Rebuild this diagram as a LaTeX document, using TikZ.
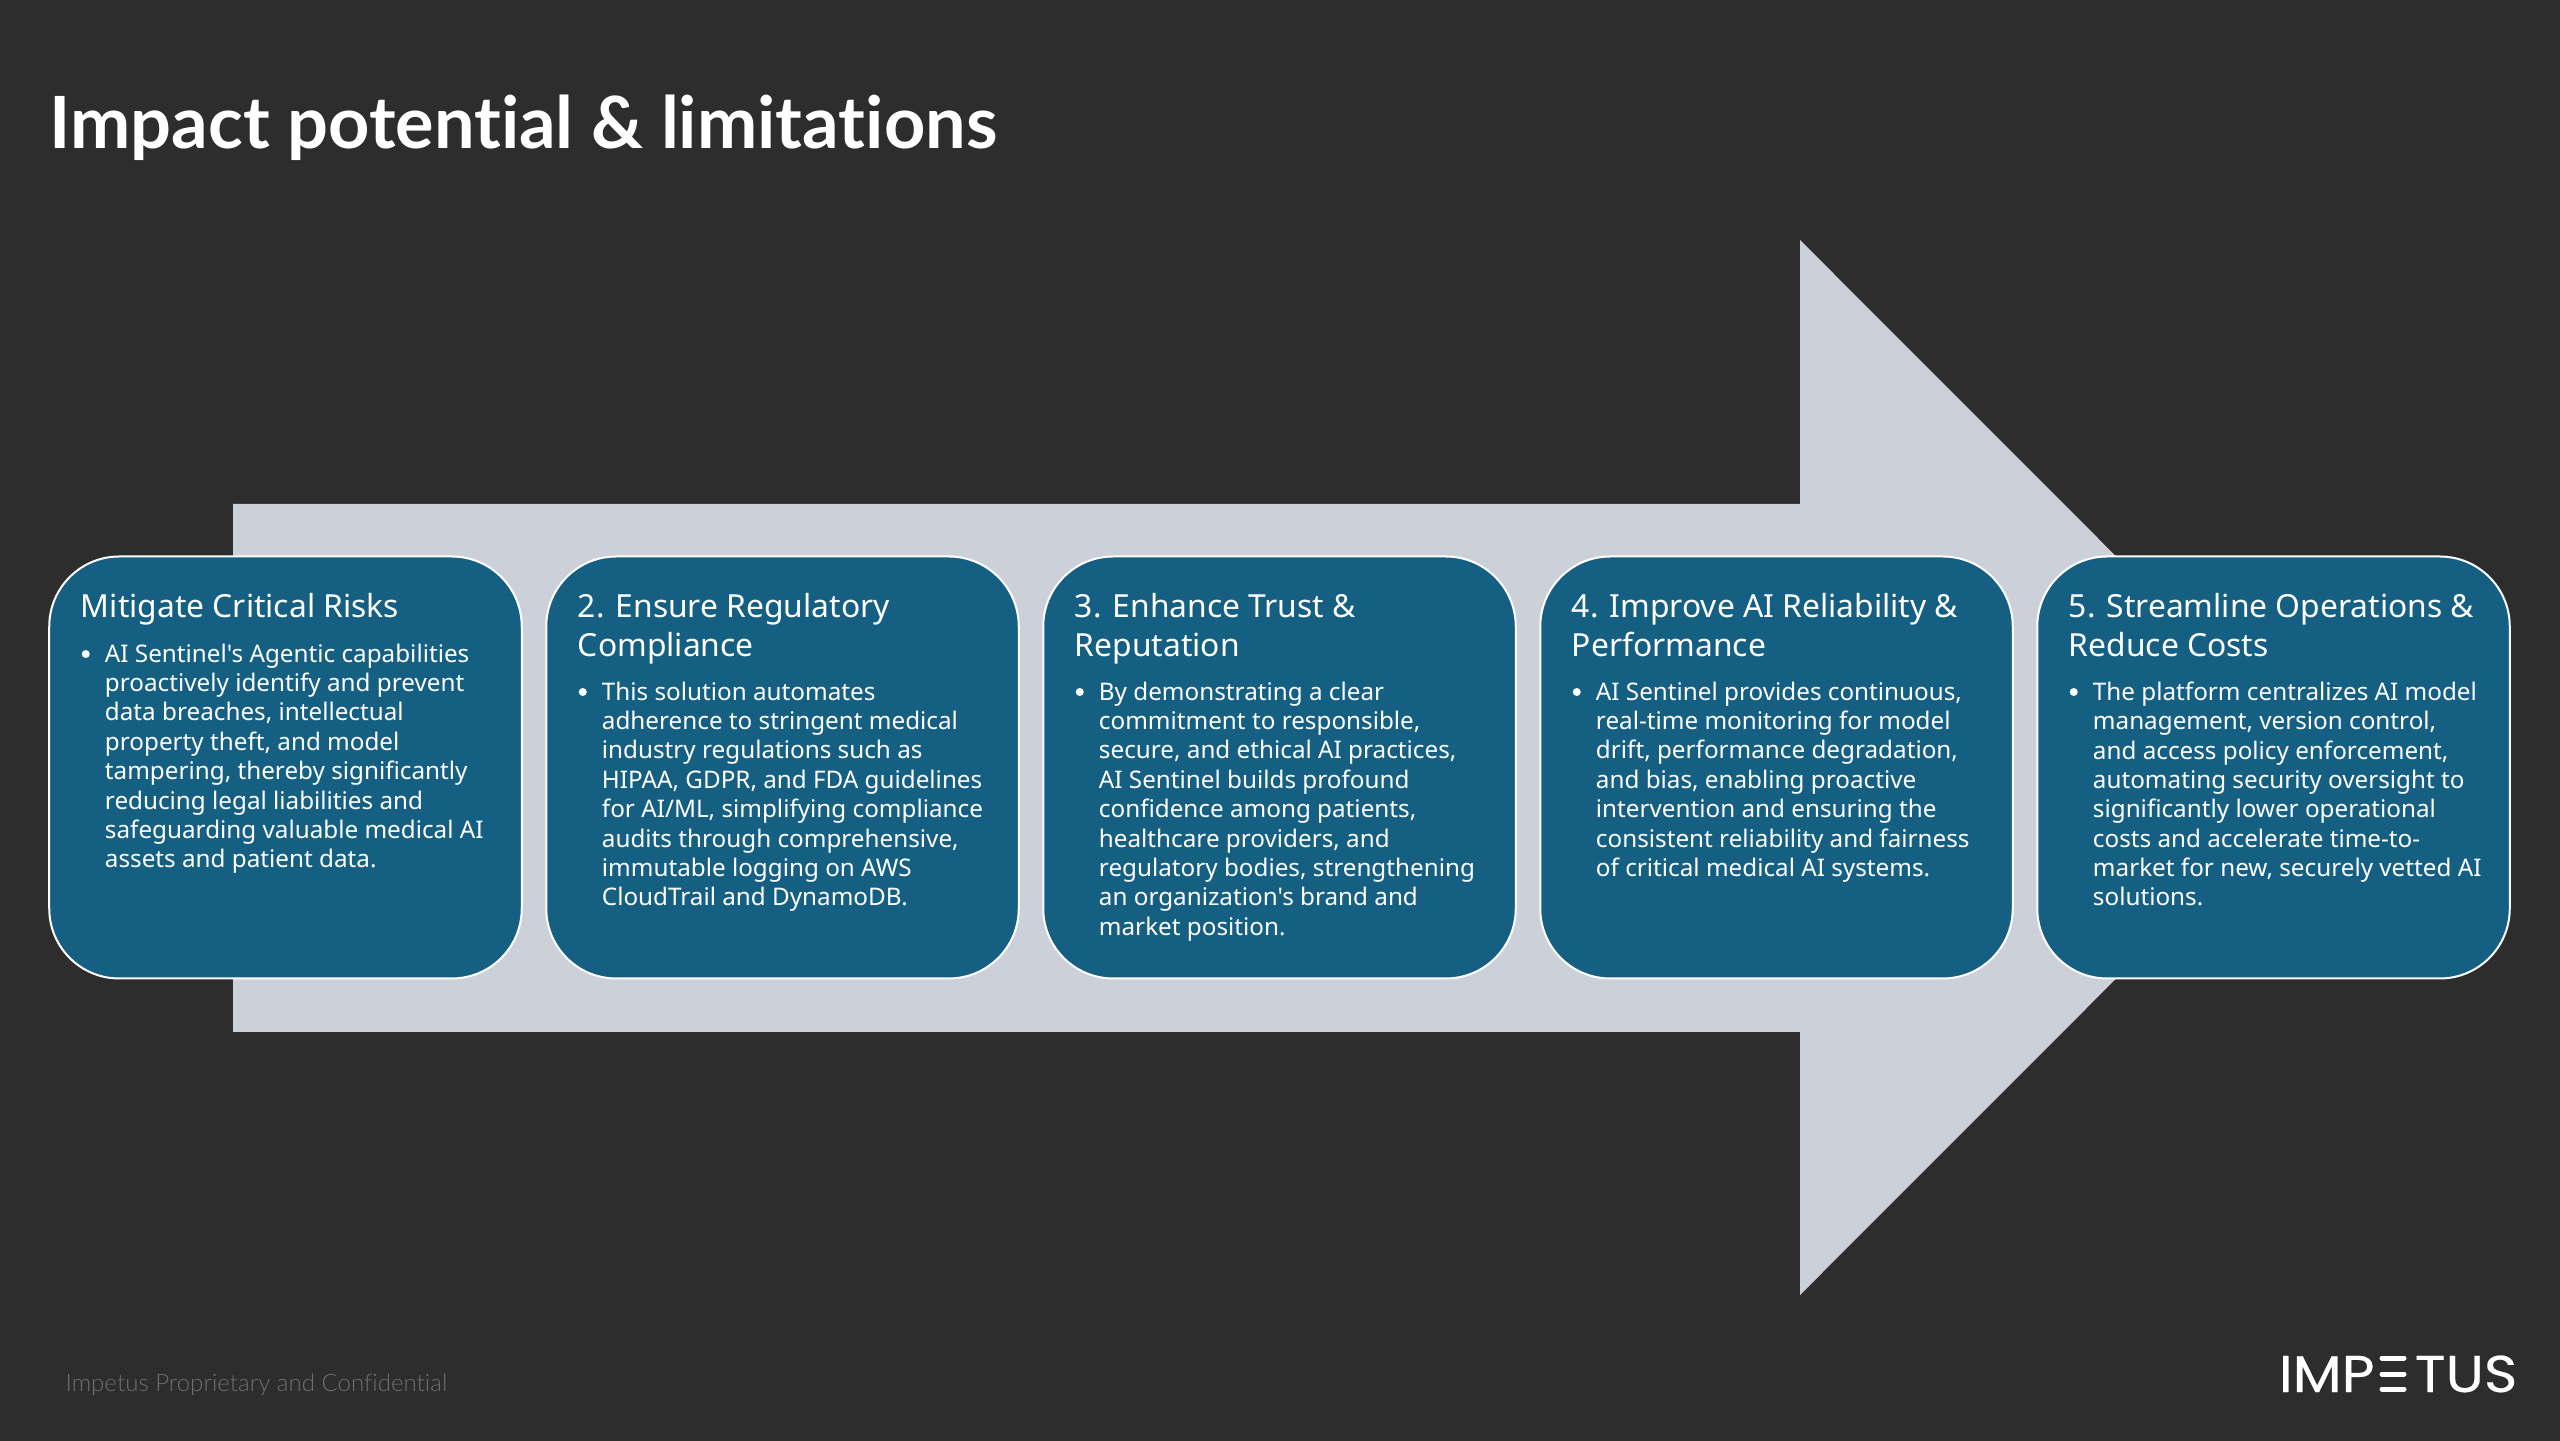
\documentclass[tikz,border=0pt]{standalone}
\usepackage{fontspec}
\usetikzlibrary{positioning}
\setmainfont{Noto Sans}[Ligatures=TeXOff]
\newfontfamily\titlefont{Lato}[Ligatures=NoCommon]
\newfontfamily\footfont{Lato Light}[Ligatures=NoCommon]
\newfontfamily\logofont{Poppins}[FakeStretch=1.1,FakeBold=0.4]
\definecolor{slidebg}{HTML}{2D2D2D}
\definecolor{arrowgray}{HTML}{CCD1D9}
\definecolor{cardblue}{HTML}{156082}
\definecolor{footgray}{HTML}{6E6E6E}
\begin{document}
\begin{tikzpicture}[
    card/.style={draw=white, line width=0.02cm, fill=cardblue, rounded corners=0.7cm, minimum width=4.725cm, minimum height=4.22cm, inner sep=0pt, outer sep=0pt},
    heading/.style={text=white, anchor=north west, align=left, inner sep=0pt, font=\fontsize{9.05}{11.1}\selectfont},
    bullettext/.style={text=white, anchor=north west, align=left, inner sep=0pt, font=\fontsize{6.9}{8.36}\selectfont},
    dot/.style={circle, fill=white, minimum size=0.08cm, inner sep=0pt},
    logotext/.style={text=white, inner sep=0pt, font=\logofont\fontsize{14.7}{15}\selectfont},
    logobar/.style={white, line width=0.05cm, line cap=round}
]
    \useasboundingbox (0,0) rectangle (25.6,14.4);
    \fill[slidebg] (-1,-1) rectangle (26.6,15.4);

    \fill[arrowgray] (2.33,9.36) -- (18,9.36) -- (18,12) -- (23.27,6.725) -- (18,1.45) -- (18,4.08) -- (2.33,4.08) -- cycle;

    \node[text=white, anchor=base west, inner sep=0pt, font=\titlefont\bfseries\fontsize{20.5}{24}\selectfont] (title) at (0.49,12.91) {Impact potential \& limitations};

    \node[card] (card1) at (2.855,6.725) {};
    \node[card, right=0.245cm of card1] (card2) {};
    \node[card, right=0.245cm of card2] (card3) {};
    \node[card, right=0.245cm of card3] (card4) {};
    \node[card, right=0.245cm of card4] (card5) {};

    \node[heading] (head1) at ([xshift=0.31cm, yshift=-0.36cm]card1.north west) {Mitigate Critical Risks};
    \node[heading] (head2) at ([xshift=0.31cm, yshift=-0.36cm]card2.north west) {2. Ensure Regulatory\\Compliance};
    \node[heading] (head3) at ([xshift=0.31cm, yshift=-0.36cm]card3.north west) {3. Enhance Trust \&\\Reputation};
    \node[heading] (head4) at ([xshift=0.31cm, yshift=-0.36cm]card4.north west) {4. Improve AI Reliability \&\\Performance};
    \node[heading] (head5) at ([xshift=0.31cm, yshift=-0.36cm]card5.north west) {5. Streamline Operations \&\\Reduce Costs};

    \node[bullettext] (body1) at ([xshift=0.55cm, yshift=-0.865cm]card1.north west) {AI Sentinel's Agentic capabilities\\proactively identify and prevent\\data breaches, intellectual\\property theft, and model\\tampering, thereby significantly\\reducing legal liabilities and\\safeguarding valuable medical AI\\assets and patient data.};
    \node[bullettext] (body2) at ([xshift=0.55cm, yshift=-1.245cm]card2.north west) {This solution automates\\adherence to stringent medical\\industry regulations such as\\HIPAA, GDPR, and FDA guidelines\\for AI/ML, simplifying compliance\\audits through comprehensive,\\immutable logging on AWS\\CloudTrail and DynamoDB.};
    \node[bullettext] (body3) at ([xshift=0.55cm, yshift=-1.245cm]card3.north west) {By demonstrating a clear\\commitment to responsible,\\secure, and ethical AI practices,\\AI Sentinel builds profound\\confidence among patients,\\healthcare providers, and\\regulatory bodies, strengthening\\an organization's brand and\\market position.};
    \node[bullettext] (body4) at ([xshift=0.55cm, yshift=-1.245cm]card4.north west) {AI Sentinel provides continuous,\\real-time monitoring for model\\drift, performance degradation,\\and bias, enabling proactive\\intervention and ensuring the\\consistent reliability and fairness\\of critical medical AI systems.};
    \node[bullettext] (body5) at ([xshift=0.55cm, yshift=-1.245cm]card5.north west) {The platform centralizes AI model\\management, version control,\\and access policy enforcement,\\automating security oversight to\\significantly lower operational\\costs and accelerate time-to-\\market for new, securely vetted AI\\solutions.};

    \node[dot] (dot1) at ([xshift=-0.185cm, yshift=-0.11cm]body1.north west) {};
    \node[dot] (dot2) at ([xshift=-0.185cm, yshift=-0.11cm]body2.north west) {};
    \node[dot] (dot3) at ([xshift=-0.185cm, yshift=-0.11cm]body3.north west) {};
    \node[dot] (dot4) at ([xshift=-0.185cm, yshift=-0.11cm]body4.north west) {};
    \node[dot] (dot5) at ([xshift=-0.185cm, yshift=-0.11cm]body5.north west) {};

    \node[text=footgray, anchor=west, inner sep=0pt, font=\footfont\fontsize{6.85}{8}\selectfont] (footer) at (0.65,0.55) {Impetus Proprietary and Confidential};

    \node[logotext, anchor=base west] (logoleft) at (22.78,0.48) {IMP};
    \node[logotext, anchor=base east] (logoright) at (25.18,0.48) {TUS};
    \draw[logobar] (23.82,0.82) -- (24.04,0.82);
    \draw[logobar] (23.82,0.66) -- (24.04,0.66);
    \draw[logobar] (23.82,0.51) -- (24.04,0.51);
\end{tikzpicture}
\end{document}
